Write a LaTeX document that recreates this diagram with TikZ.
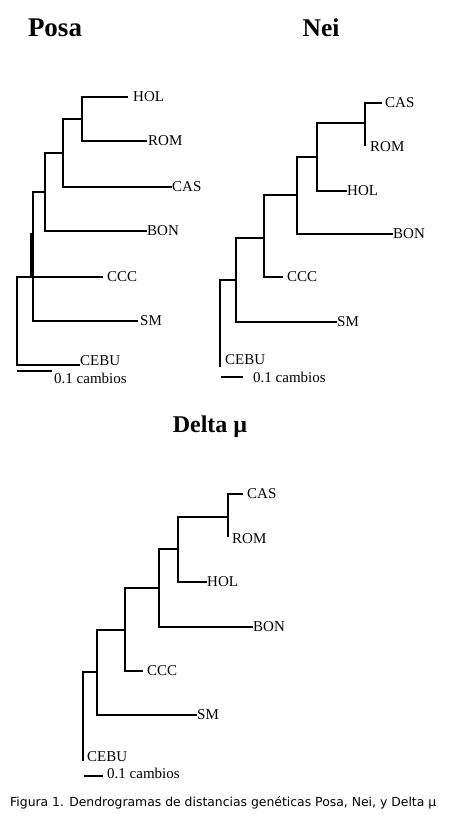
\documentclass[tikz,border=0pt]{standalone}
\usepackage{fontspec}
\setmainfont{Liberation Serif}
\newfontfamily\capfont{DejaVu Sans}
\tikzset{
  branch/.style={line width=1.6pt},
  taxon/.style={anchor=west,inner sep=0pt,font=\fontsize{15}{16}\selectfont},
  treetitle/.style={anchor=base,inner sep=0pt,font=\bfseries\fontsize{#1}{#1}\selectfont}
}
\begin{document}
\begin{tikzpicture}[x=1pt,y=-1pt]
    \useasboundingbox (0,0) rectangle (468,829);
    % Posa
    \node[treetitle=27] (Ptitle) at (55,37) {Posa};
    \coordinate (P-hol) at (128,97);
    \coordinate (P-rom) at (147,141);
    \coordinate (P-cas) at (172,187);
    \coordinate (P-bon) at (147,231);
    \coordinate (P-ccc) at (103,277);
    \coordinate (P-sm) at (138,321);
    \coordinate (P-cebu) at (80,365);
    \coordinate (P-a) at (82,119);
    \coordinate (P-b) at (63,153);
    \coordinate (P-c) at (45,192);
    \coordinate (P-d) at (33,277);
    \coordinate (P-r) at (17,321);
    \draw[branch] (P-a) |- (P-hol) (P-a) |- (P-rom);
    \draw[branch] (P-b) |- (P-a) (P-b) |- (P-cas);
    \draw[branch] (P-c) |- (P-b) (P-c) |- (P-bon);
    \draw[branch] (P-d) |- (P-c) (P-d) |- (P-sm);
    \draw[branch] (P-r) |- (P-ccc) (P-r) |- (P-cebu) (P-r) |- (P-d);
    \draw[line width=4pt] (31.5,233)--(31.5,277);
    \node[taxon] (Plhol) at ([xshift=5pt]P-hol) {HOL};
    \node[taxon] (Plrom) at ([xshift=1pt]P-rom) {ROM};
    \node[taxon] (Plcas) at ([xshift=0pt]P-cas) {CAS};
    \node[taxon] (Plbon) at ([xshift=0pt]P-bon) {BON};
    \node[taxon] (Plccc) at ([xshift=4pt]P-ccc) {CCC};
    \node[taxon] (Plsm) at ([xshift=2pt]P-sm) {SM};
    \node[taxon] (Plcebu) at ([yshift=4pt]P-cebu) {CEBU};
    \coordinate (P-s0) at (17,371);
    \coordinate (P-s1) at (52,371);
    \draw[line width=1.4pt] (P-s0) -- (P-s1);
    \node[taxon] (Pscale) at (54,378) {0.1 cambios};
    % Nei
    \node[treetitle=25.5] (Ntitle) at (321,37) {Nei};
    \coordinate (N-cas) at (382,103);
    \coordinate (N-rom) at (365,146);
    \coordinate (N-hol) at (347,191);
    \coordinate (N-bon) at (393,234);
    \coordinate (N-ccc) at (283,277);
    \coordinate (N-sm) at (337,322);
    \coordinate (N-cebu) at (220,367);
    \coordinate (N-a) at (365,123);
    \coordinate (N-b) at (317,157);
    \coordinate (N-c) at (297,195);
    \coordinate (N-d) at (264,238);
    \coordinate (N-e) at (236,280);
    \coordinate (N-r) at (220,323);
    \draw[branch] (N-a) |- (N-cas) (N-a) |- (N-rom);
    \draw[branch] (N-b) |- (N-a) (N-b) |- (N-hol);
    \draw[branch] (N-c) |- (N-b) (N-c) |- (N-bon);
    \draw[branch] (N-d) |- (N-c) (N-d) |- (N-ccc);
    \draw[branch] (N-e) |- (N-d) (N-e) |- (N-sm);
    \draw[branch] (N-r) |- (N-e) (N-r) |- (N-cebu);
    \node[taxon] (Nlcas) at ([xshift=3pt]N-cas) {CAS};
    \node[taxon] (Nlrom) at ([xshift=5pt,yshift=-1pt]N-rom) {ROM};
    \node[taxon] (Nlhol) at ([xshift=0pt]N-hol) {HOL};
    \node[taxon] (Nlbon) at ([xshift=0pt]N-bon) {BON};
    \node[taxon] (Nlccc) at ([xshift=4pt]N-ccc) {CCC};
    \node[taxon] (Nlsm) at ([xshift=0pt]N-sm) {SM};
    \node[taxon] (Nlcebu) at ([xshift=5pt,yshift=7pt]N-cebu) {CEBU};
    \coordinate (N-s0) at (221,377);
    \coordinate (N-s1) at (243,377);
    \draw[line width=1.4pt] (N-s0) -- (N-s1);
    \node[taxon] (Nscale) at (253,377) {0.1 cambios};
    % Delta mu
    \node[treetitle=24] (Dtitle) at (210,432) {Delta µ};
    \coordinate (D-cas) at (243,494);
    \coordinate (D-rom) at (228,537);
    \coordinate (D-hol) at (207,582);
    \coordinate (D-bon) at (253,627);
    \coordinate (D-ccc) at (143,671);
    \coordinate (D-sm) at (197,715);
    \coordinate (D-cebu) at (83,761);
    \coordinate (D-a) at (228,517);
    \coordinate (D-b) at (178,549);
    \coordinate (D-c) at (159,588);
    \coordinate (D-d) at (125,630);
    \coordinate (D-e) at (97,672);
    \coordinate (D-r) at (83,716);
    \draw[branch] (D-a) |- (D-cas) (D-a) |- (D-rom);
    \draw[branch] (D-b) |- (D-a) (D-b) |- (D-hol);
    \draw[branch] (D-c) |- (D-b) (D-c) |- (D-bon);
    \draw[branch] (D-d) |- (D-c) (D-d) |- (D-ccc);
    \draw[branch] (D-e) |- (D-d) (D-e) |- (D-sm);
    \draw[branch] (D-r) |- (D-e) (D-r) |- (D-cebu);
    \node[taxon] (Dlcas) at ([xshift=4pt]D-cas) {CAS};
    \node[taxon] (Dlrom) at ([xshift=4pt,yshift=-2pt]D-rom) {ROM};
    \node[taxon] (Dlhol) at ([xshift=0pt]D-hol) {HOL};
    \node[taxon] (Dlbon) at ([xshift=0pt]D-bon) {BON};
    \node[taxon] (Dlccc) at ([xshift=4pt]D-ccc) {CCC};
    \node[taxon] (Dlsm) at ([xshift=0pt]D-sm) {SM};
    \node[taxon] (Dlcebu) at ([xshift=4pt,yshift=4pt]D-cebu) {CEBU};
    \coordinate (D-s0) at (84,776);
    \coordinate (D-s1) at (103,776);
    \draw[line width=1.4pt] (D-s0) -- (D-s1);
    \node[taxon] (Dscale) at (107,773) {0.1 cambios};
    % caption
    \node[anchor=west,inner sep=0pt,font=\capfont\fontsize{12.4}{14}\selectfont] (caption) at (10,803)
        {Figura 1. Dendrogramas de distancias genéticas Posa, Nei, y Delta µ};
\end{tikzpicture}
\end{document}
